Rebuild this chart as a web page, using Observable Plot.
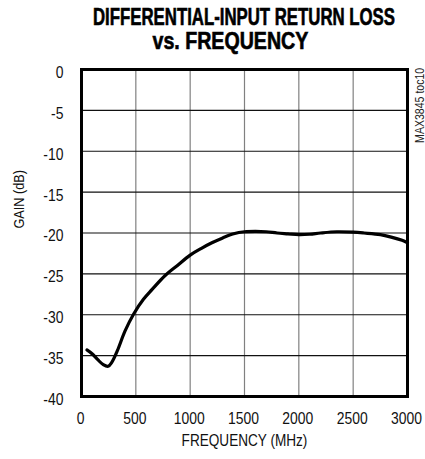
<!DOCTYPE html>
<html>
<head>
<meta charset="utf-8">
<script src="https://cdn.jsdelivr.net/npm/d3@7"></script>
<script src="https://cdn.jsdelivr.net/npm/@observablehq/plot@0.6"></script>
<style>
  html, body { margin: 0; padding: 0; background: #fff; }
  #wrap { position: relative; width: 425px; height: 459px; overflow: hidden; }
  .tline { position: absolute; display: inline-block; white-space: nowrap;
    font-family: "Liberation Sans", Arial, sans-serif; font-weight: bold;
    font-size: 23px; line-height: 24px; color: #000; transform-origin: 50% 50%;
    -webkit-text-stroke: 0.6px #000; }
  #chart { position: absolute; left: 0; top: 0; }
</style>
</head>
<body>
<div id="wrap">
  <div id="chart"></div>
  <span class="tline" id="t1">DIFFERENTIAL-INPUT RETURN LOSS</span>
  <span class="tline" id="t2">vs. FREQUENCY</span>
</div>
<script>
const freqMHz = [50, 100, 150, 200, 245, 280, 330, 400, 480, 570, 650, 770, 880, 1000, 1100, 1200, 1300, 1400, 1500, 1600, 1700, 1800, 1900, 2000, 2100, 2200, 2350, 2500, 2600, 2750, 2850, 2950, 3000];
const gainDB  = [-34.3, -34.8, -35.5, -36.1, -36.3, -35.8, -34.4, -32.0, -29.9, -28.1, -26.9, -25.2, -24.0, -22.7, -21.9, -21.2, -20.6, -20.1, -19.85, -19.8, -19.85, -20.0, -20.1, -20.2, -20.15, -20.0, -19.85, -19.9, -20.0, -20.2, -20.5, -20.9, -21.2];
const xTicks = [0, 500, 1000, 1500, 2000, 2500, 3000];
const yTicks = [0, -5, -10, -15, -20, -25, -30, -35, -40];

const data = freqMHz.map((f, i) => ({f, g: gainDB[i]}));
const font = '"Liberation Sans", Arial, sans-serif';

const chart = Plot.plot({
  width: 425,
  height: 459,
  marginLeft: 81,
  marginRight: 18,
  marginTop: 69,
  marginBottom: 63,
  style: {fontFamily: font, fontSize: "17px", color: "#000", background: "transparent"},
  x: {domain: [0, 3000], ticks: xTicks, label: null},
  y: {domain: [-40, 0], ticks: yTicks, label: null},
  marks: [
    Plot.gridX(xTicks.slice(1, -1), {stroke: "#808080", strokeOpacity: 1, strokeWidth: 1.2}),
    Plot.gridY(yTicks.slice(1, -1), {stroke: "#111", strokeOpacity: 1, strokeWidth: 1.2}),
    Plot.axisX(xTicks, {tickSize: 0, tickPadding: 15.5, fontSize: 17, label: null, tickFormat: d => String(d), dx: -1, fill: "#111"}),
    Plot.axisY(yTicks, {tickSize: 0, tickPadding: 18, fontSize: 17, label: null, tickFormat: d => String(d), dy: 3, fill: "#111"}),
    Plot.text(["FREQUENCY (MHz)"], {frameAnchor: "bottom", dy: 49, fontSize: 17, fill: "#111"}),
    Plot.text(["GAIN (dB)"], {frameAnchor: "left", dx: -62.5, dy: -4.5, rotate: -90, fontSize: 15.5, fill: "#111"}),
    Plot.text(["MAX3845 toc10"], {frameAnchor: "top-right", dx: 8, dy: -1.7, rotate: -90, textAnchor: "end", fontSize: 12, fill: "#222"}),
    Plot.line(data, {x: "f", y: "g", curve: "catmull-rom", stroke: "#000", strokeWidth: 3.2}),
    Plot.frame({stroke: "#000", strokeWidth: 3})
  ]
});
document.getElementById("chart").appendChild(chart);

// Narrow the Arial-like font horizontally (Helvetica Narrow look)
const ctx = document.createElement("canvas").getContext("2d");
chart.querySelectorAll("text").forEach(t => {
  const txt = t.textContent;
  const s = txt.startsWith("MAX") ? 0.88 : (txt.startsWith("FREQ") ? 0.80 : 0.82);
  const tr = t.getAttribute("transform");
  if (tr) {
    t.setAttribute("transform", `${tr} scale(${s},1)`);
  } else {
    const fs = parseFloat(getComputedStyle(t).fontSize) || 17;
    ctx.font = `${fs}px "Liberation Sans", Arial, sans-serif`;
    const len = ctx.measureText(txt).width;
    if (len > 0) {
      t.setAttribute("textLength", (len * s).toFixed(2));
      t.setAttribute("lengthAdjust", "spacingAndGlyphs");
    }
  }
});

// Title lines: centre and width
function placeTitle(id, cx, capTop, targetW) {
  const el = document.getElementById(id);
  const w = el.offsetWidth;
  const fs = 23, L = 24;
  const off = (L - 1.117 * fs) / 2 + 0.905 * fs - 0.716 * fs;
  el.style.left = (cx - w / 2) + "px";
  el.style.top = (capTop - off) + "px";
  el.style.transform = `scaleX(${targetW / w})`;
}
placeTitle("t1", 244, 9, 302);
placeTitle("t2", 230, 33, 156);
</script>
</body>
</html>
